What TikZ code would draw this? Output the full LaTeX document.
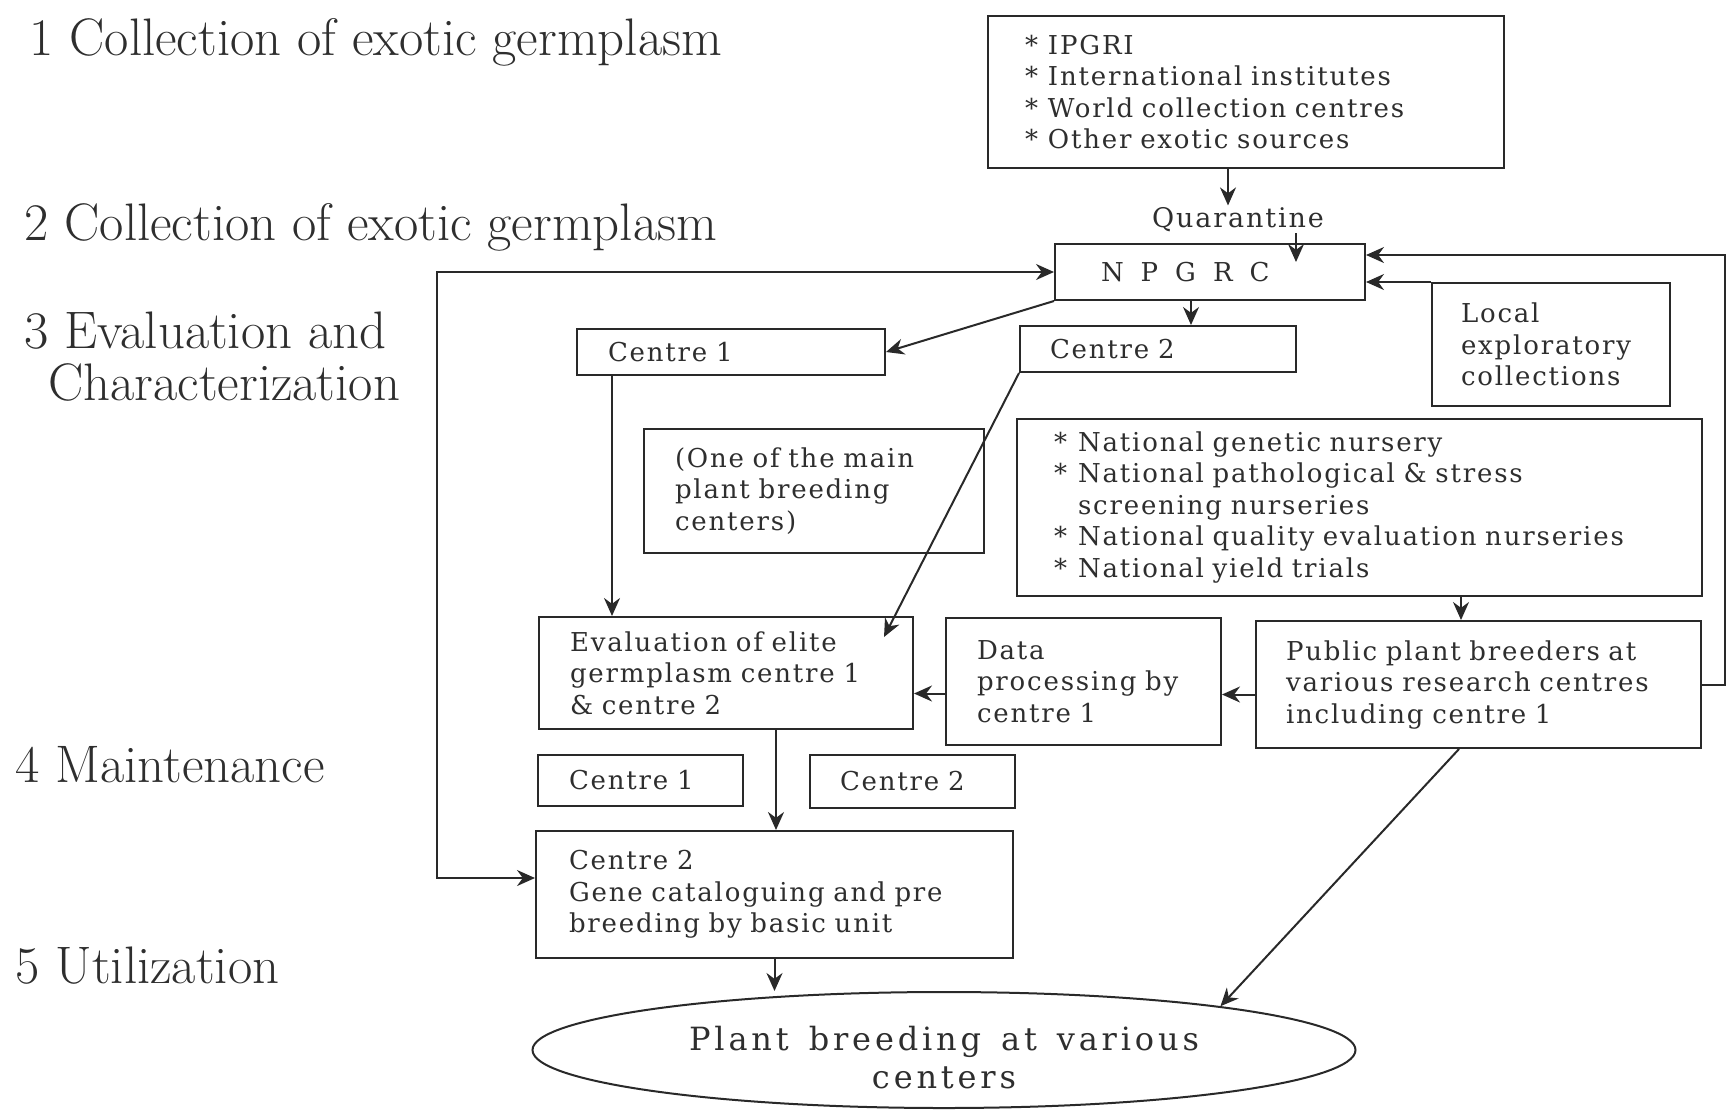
\documentclass[tikz,border=0pt]{standalone}
\usepackage{fontspec}
\usetikzlibrary{arrows.meta,shapes.geometric,calc}
\newfontfamily\bx{DejaVu Serif}[LetterSpace=7]
\newfontfamily\bxls{DejaVu Serif}[LetterSpace=12]
\definecolor{ink}{gray}{0.16}
\definecolor{txt}{gray}{0.18}
\newcommand\bulmark{\makebox[11.5pt][l]{*}}
\begin{document}
\begin{tikzpicture}[x=0.5pt,y=-0.5pt,
  lab/.style={anchor=base west, inner sep=0pt, font=\fontsize{26.4}{28}\selectfont, text=txt},
  box/.style={draw=ink, line width=1pt, anchor=north west, align=left, inner ysep=0pt,
              font=\bx\fontsize{13}{15.75}\selectfont, text=txt},
  arr/.style={draw=ink, line width=1pt, -{Stealth[length=9pt,width=8pt]}},
  arrboth/.style={draw=ink, line width=1pt, {Stealth[length=9pt,width=8pt]}-{Stealth[length=9pt,width=8pt]}}]
\useasboundingbox (0,0) rectangle (1728,1109);

% stage labels
\node[lab] (l1) at (29,55) {1 Collection of exotic germplasm};
\node[lab] (l2) at (24,240) {2 Collection of exotic germplasm};
\node[lab] (l3) at (24,348) {3 Evaluation and};
\node[lab] (l3b) at (48,400) {Characterization};
\node[lab] (l4) at (15,782) {4 Maintenance};
\node[lab] (l5) at (15,983) {5 Utilization};

% boxes
\node[box, minimum width=258pt, minimum height=76pt, inner xsep=18.5pt, text width=221pt] (src) at (987,15)
  {\bulmark IPGRI\\ \bulmark International institutes\\ \bulmark World collection centres\\ \bulmark Other exotic sources};
\node[font=\bx\fontsize{13.5}{15}\selectfont, text=txt, inner sep=1pt] (quar) at (1238,220) {Quarantine};
\node[box, minimum width=155pt, minimum height=28pt, inner xsep=23pt, text width=109pt] (npgrc) at (1054,243)
  {N\kern8.5pt P\kern8.5pt G\kern8.5pt R\kern8.5pt C};
\node[box, minimum width=154pt, minimum height=23pt, inner xsep=15.5pt, text width=123pt] (c1top) at (576,328) {Centre 1};
\node[box, minimum width=138pt, minimum height=23pt, inner xsep=15pt, text width=108pt] (c2top) at (1019,325) {Centre 2};
\node[box, minimum width=119pt, minimum height=61.5pt, inner xsep=14.5pt, text width=90pt] (local) at (1431,282)
  {Local\\exploratory\\collections};
\node[box, minimum width=170pt, minimum height=62pt, inner xsep=15.5pt, text width=139pt] (one) at (643,428)
  {(One of the main\\plant breeding\\centers)};
\node[box, minimum width=342.5pt, minimum height=88.5pt, inner xsep=18.5pt, text width=305.5pt] (nurs) at (1016,418)
  {\makebox[12pt][l]{*}National genetic nursery\\
   \makebox[12pt][l]{*}National pathological \& stress\\
   \hspace*{12pt}screening nurseries\\
   \makebox[12pt][l]{*}National quality evaluation nurseries\\
   \makebox[12pt][l]{*}National yield trials};
\node[box, minimum width=187pt, minimum height=56pt, inner xsep=15.5pt, text width=156pt] (eval) at (538,616)
  {Evaluation of elite\\germplasm centre 1\\\& centre 2};
\node[box, minimum width=137.5pt, minimum height=63.5pt, inner xsep=15.5pt, text width=106.5pt] (data) at (945,617)
  {Data\\processing by\\centre 1};
\node[box, minimum width=222.5pt, minimum height=63.5pt, inner xsep=15pt, text width=192.5pt] (public) at (1255,620)
  {Public plant breeders at\\various research centres\\including centre 1};
\node[box, minimum width=102.5pt, minimum height=25.5pt, inner xsep=15.5pt, text width=71.5pt] (c1bot) at (537,754) {Centre 1};
\node[box, minimum width=102.5pt, minimum height=26.5pt, inner xsep=15pt, text width=72.5pt] (c2bot) at (809,754) {Centre 2};
\node[box, minimum width=238.5pt, minimum height=63.5pt, inner xsep=16.5pt, text width=205.5pt] (gene) at (535,830)
  {Centre 2\\Gene cataloguing and pre\\breeding by basic unit};
\node[draw=ink, line width=1pt, ellipse, minimum width=411.5pt, minimum height=58pt, inner sep=0pt] (ell) at (944,1050) {};
\node[align=center, inner sep=0pt, font=\bxls\fontsize{16}{19}\selectfont, text=txt] (ellt) at (944,1058)
  {Plant\hskip 10pt breeding\hskip 10pt at\hskip 10pt various\\centers};

% connectors
\draw[arr] ([xshift=-5pt]src.south -| quar.north) -- ([xshift=-5pt]quar.north);
\coordinate (qa) at (1296,233);
\coordinate (qb) at (1296,262);
\draw[arr] (qa) -- (qb);
\coordinate (lp) at (437,878);
\draw[arrboth] (npgrc.west) -| (lp) -- (lp -| gene.west);
\coordinate (rp) at (1725,255);
\draw[arr] (public.east) -| (rp) -- (rp -| npgrc.east);
\draw[arr] (local.north west) -- (local.north west -| npgrc.east);
\draw[arr] ([xshift=-9.5pt]npgrc.south) -- ([xshift=-9.5pt]npgrc.south |- c2top.north);
\draw[arr] (npgrc.south west) -- (c1top.east);
\draw[arr] ([xshift=18pt]c1top.south west) -- ([xshift=18pt]c1top.south west |- eval.north);
\draw[arr] (c2top.south west) -- ([xshift=-15pt,yshift=-10.5pt]eval.north east);
\draw[arr] ([yshift=-6pt]data.west) -- ([yshift=-6pt]data.west -| eval.east);
\draw[arr] ([yshift=-5pt]public.west) -- ([yshift=-5pt]public.west -| data.east);
\draw[arr] ([xshift=-8.75pt]public.north |- nurs.south) -- ([xshift=-8.75pt]public.north);
\draw[arr] ([xshift=119pt]eval.south west) -- ([xshift=119pt]eval.south west |- gene.north);
\draw[arr] (gene.south) -- (gene.south |- ell.north);
\draw[arr] ([xshift=-9.75pt]public.south) -- (ell.9.2);
\end{tikzpicture}
\end{document}
